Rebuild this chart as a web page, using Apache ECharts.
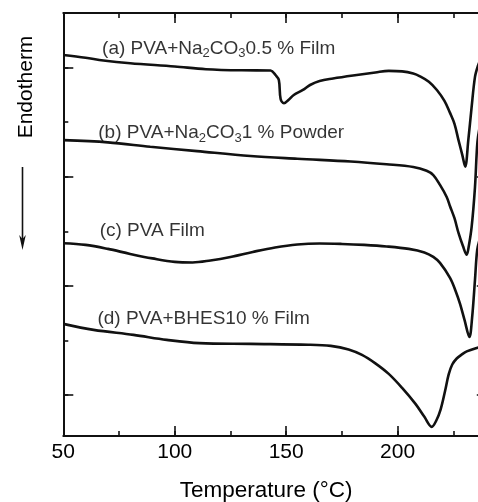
<!DOCTYPE html>
<html><head><meta charset="utf-8">
<script src="https://cdn.jsdelivr.net/npm/echarts@6/dist/echarts.min.js"></script>
<style>html,body{margin:0;padding:0;background:#fff}#c{width:478px;height:502px}</style>
</head><body><div id="c"></div>
<script>
// ---- data (temperature in °C, signal in arbitrary units, increasing downward = endotherm) ----
const tempA = [50,60,68,80,100,114,130,143,145.2,146.7,147.5,149,151,153.4,157.5,160.7,165,171,180,190,196,202,207,210,214,217.6,221,223.5,225.5,227.3,229,230.3,231.7,233.2,234.7,236,237.5];
const sigA  = [0.77,0.82,0.87,0.92,0.98,1.03,1.05,1.053,1.136,1.227,1.575,1.654,1.593,1.502,1.41,1.319,1.245,1.2,1.145,1.09,1.06,1.07,1.11,1.16,1.26,1.41,1.61,1.83,2.03,2.33,2.60,2.815,2.33,1.72,1.17,0.97,0.82];

const tempB = [50,70,89,110,134,155,179,195,207,213,216,219,222,223.5,225.5,227.3,229.3,231,231.8,233.2,234.7,235.8,237];
const sigB  = [2.33,2.37,2.45,2.53,2.62,2.67,2.72,2.77,2.82,2.89,2.97,3.15,3.37,3.54,3.76,4.03,4.27,4.43,4.30,3.92,3.19,2.36,2.05];

const tempC = [50,60,70,80,90,100,108,116,125,135,145,155,165,175,185,195,205,212,216,219,223.5,226,228,230,232.2,233.4,234.7,235.7,237];
const sigC  = [4.218,4.249,4.322,4.414,4.496,4.560,4.570,4.533,4.469,4.377,4.295,4.240,4.222,4.231,4.249,4.277,4.322,4.386,4.469,4.579,4.853,5.092,5.330,5.623,5.934,5.586,4.890,4.341,4.121];

const tempD = [50,63.6,81.5,96.4,111,134,160,170,178,184,190,196,202,208,212,215.3,217.3,219.3,221.3,222.9,224.5,226.5,229,231,235.5,237.5];
const sigD  = [5.696,5.806,5.897,5.989,6.049,6.062,6.077,6.099,6.163,6.264,6.419,6.612,6.868,7.161,7.399,7.582,7.47,7.26,6.92,6.62,6.44,6.33,6.25,6.200,6.136,6.117];

const xTickLabels = [50,100,150,200];
const labelTexts = [
  '{t|(a) PVA+Na}{s|2}{t|CO}{s|3}{t|0.5 % Film}',
  '{t|(b) PVA+Na}{s|2}{t|CO}{s|3}{t|1 % Powder}',
  '{t|(c) PVA Film}',
  '{t|(d) PVA+BHES10 % Film}'
];
const labelTemps = [67.4, 65.7, 66.3, 65.3];
const labelSigs  = [0.647, 2.19, 3.99, 5.60];

// ---- chart ----
const FONT = "'Liberation Sans', Arial, Helvetica, sans-serif";
const INK = '#111';
const TXT = '#000';
const zip = (xs, ys) => xs.map((x, i) => [x, ys[i]]);

const X_MIN = 50, X_MAX = 240;
const lineSeries = (xs, ys) => ({
  type: 'line', xAxisIndex: 0, yAxisIndex: 0,
  data: zip(xs, ys), showSymbol: false, symbol: 'none',
  smooth: 0.35, clip: true, silent: true,
  lineStyle: { color: INK, width: 2.6 }
});

const tickAxisX = (pos, interval, len, showLine) => ({
  gridIndex: 0, type: 'value', position: pos, min: X_MIN, max: X_MAX, interval: interval,
  axisLine: { show: showLine, onZero: false, lineStyle: { color: INK, width: 2 } },
  axisTick: { show: true, inside: true, length: len, lineStyle: { color: INK, width: 1.6 } },
  axisLabel: { show: false }, splitLine: { show: false }
});
const tickAxisY = (grid, pos, max, interval, len, showLine) => ({
  gridIndex: grid, type: 'value', position: pos, inverse: true, min: 0, max: max, interval: interval,
  axisLine: { show: showLine, onZero: false, lineStyle: { color: INK, width: 2 } },
  axisTick: { show: true, inside: true, length: len, lineStyle: { color: INK, width: 1.6 } },
  axisLabel: { show: false }, splitLine: { show: false }
});

const mainX = tickAxisX('bottom', 50, 10, true);
mainX.axisLabel = {
  show: true, fontSize: 21, fontFamily: FONT, color: TXT, margin: 6,
  showMaxLabel: false,
  formatter: v => (xTickLabels.indexOf(v) >= 0 ? String(v) : '')
};
mainX.name = 'Temperature (°C)';
mainX.nameLocation = 'middle';
mainX.nameGap = 43;
mainX.nameTextStyle = { fontSize: 22.5, fontFamily: FONT, color: TXT, padding: [0, 18, 0, 0] };

const option = {
  animation: false,
  backgroundColor: '#fff',
  grid: [
    { left: 63.3, top: 13, width: 423.5, height: 423, containLabel: false, outerBoundsMode: 'none' },
    { left: 63.3, top: 67.6, width: 423.5, height: 327.6, containLabel: false, outerBoundsMode: 'none' }
  ],
  xAxis: [
    mainX,
    tickAxisX('bottom', 25, 5, false),
    tickAxisX('top', 50, 10, true),
    tickAxisX('top', 25, 5, false),
    { gridIndex: 1, type: 'value', min: X_MIN, max: X_MAX, show: false }
  ],
  yAxis: [
    tickAxisY(0, 'left', 7.75, 1, 5, true),
    tickAxisY(0, 'right', 7.75, 1, 5, true),
    tickAxisY(1, 'left', 6, 2, 10, false),
    tickAxisY(1, 'right', 6, 2, 10, false)
  ],
  series: [
    lineSeries(tempA, sigA),
    lineSeries(tempB, sigB),
    lineSeries(tempC, sigC),
    lineSeries(tempD, sigD),
    {
      type: 'scatter', xAxisIndex: 0, yAxisIndex: 0, symbolSize: 0, silent: true,
      data: labelTemps.map((t, i) => [t, labelSigs[i]]),
      label: {
        show: true, position: 'right', distance: 0, color: TXT, textBorderWidth: 0,
        formatter: p => labelTexts[p.dataIndex],
        rich: {
          t: { fontSize: 19, fontFamily: FONT, color: TXT, lineHeight: 24, textBorderWidth: 0 },
          s: { fontSize: 13, fontFamily: FONT, color: TXT, lineHeight: 13, verticalAlign: 'bottom', textBorderWidth: 0 }
        }
      }
    }
  ],
  graphic: [
    { type: 'text', x: 26, y: 87, rotation: Math.PI / 2,
      style: { text: 'Endotherm', fontSize: 21, fontFamily: FONT, fill: TXT,
               align: 'center', verticalAlign: 'middle', textAlign: 'center', textVerticalAlign: 'middle' } },
    { type: 'line', shape: { x1: 22.5, y1: 167, x2: 22.5, y2: 242 }, style: { stroke: '#111', lineWidth: 1.6 } },
    { type: 'polygon', shape: { points: [[19.2, 235], [22.5, 250], [25.8, 235], [22.5, 239]] }, style: { fill: '#111' } }
  ]
};

const chart = echarts.init(document.getElementById('c'), null, { renderer: 'canvas' });
chart.setOption(option);
</script>
</body></html>
